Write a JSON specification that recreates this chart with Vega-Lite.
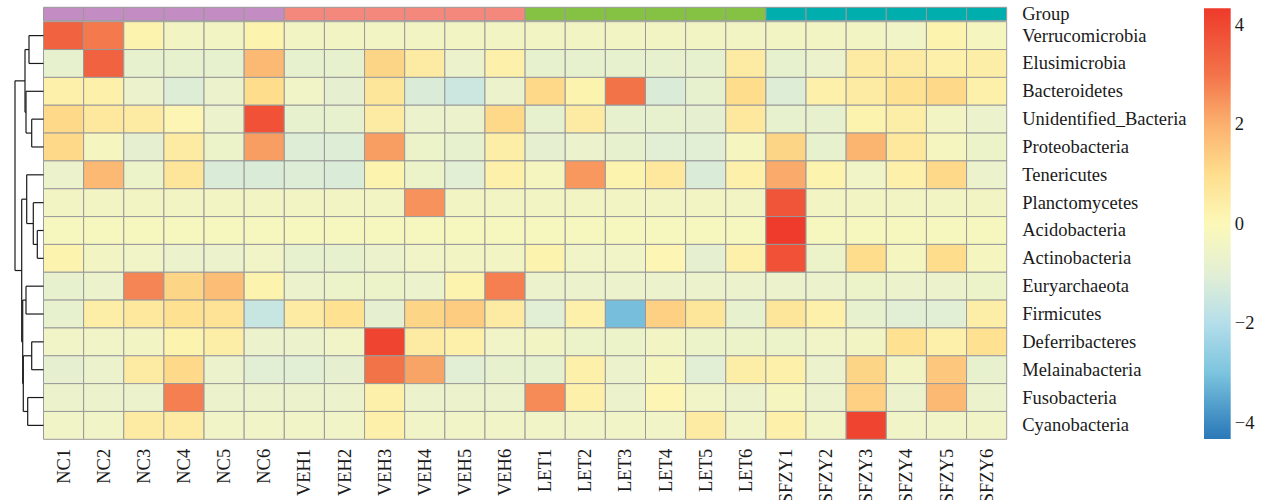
{
"$schema": "https://vega.github.io/schema/vega-lite/v6.json",
"width": 963.2,
"height": 432,
"autosize": {"type": "none"},
"padding": {"left": 43.5, "top": 7.3, "right": 261.3, "bottom": 60.7},
"background": "white",
"config": {"view": {"stroke": null}, "font": "Liberation Serif"},
"datasets": {
"cells": [
{"taxon":"Verrucomicrobia","sample":"NC1","value":3.4},{"taxon":"Verrucomicrobia","sample":"NC2","value":2.9},{"taxon":"Verrucomicrobia","sample":"NC3","value":0.2},{"taxon":"Verrucomicrobia","sample":"NC4","value":-0.4},{"taxon":"Verrucomicrobia","sample":"NC5","value":-0.4},{"taxon":"Verrucomicrobia","sample":"NC6","value":0.2},{"taxon":"Verrucomicrobia","sample":"VEH1","value":-0.4},{"taxon":"Verrucomicrobia","sample":"VEH2","value":-0.4},{"taxon":"Verrucomicrobia","sample":"VEH3","value":-0.4},{"taxon":"Verrucomicrobia","sample":"VEH4","value":-0.4},{"taxon":"Verrucomicrobia","sample":"VEH5","value":-0.4},{"taxon":"Verrucomicrobia","sample":"VEH6","value":-0.4},{"taxon":"Verrucomicrobia","sample":"LET1","value":-0.4},{"taxon":"Verrucomicrobia","sample":"LET2","value":-0.4},{"taxon":"Verrucomicrobia","sample":"LET3","value":-0.4},{"taxon":"Verrucomicrobia","sample":"LET4","value":-0.4},{"taxon":"Verrucomicrobia","sample":"LET5","value":-0.4},{"taxon":"Verrucomicrobia","sample":"LET6","value":-0.4},{"taxon":"Verrucomicrobia","sample":"SFZY1","value":-0.4},{"taxon":"Verrucomicrobia","sample":"SFZY2","value":-0.4},{"taxon":"Verrucomicrobia","sample":"SFZY3","value":-0.4},{"taxon":"Verrucomicrobia","sample":"SFZY4","value":-0.5},{"taxon":"Verrucomicrobia","sample":"SFZY5","value":0.2},{"taxon":"Verrucomicrobia","sample":"SFZY6","value":-0.3},
{"taxon":"Elusimicrobia","sample":"NC1","value":-0.8},{"taxon":"Elusimicrobia","sample":"NC2","value":3.4},{"taxon":"Elusimicrobia","sample":"NC3","value":-0.8},{"taxon":"Elusimicrobia","sample":"NC4","value":-0.8},{"taxon":"Elusimicrobia","sample":"NC5","value":-0.8},{"taxon":"Elusimicrobia","sample":"NC6","value":1.8},{"taxon":"Elusimicrobia","sample":"VEH1","value":-0.8},{"taxon":"Elusimicrobia","sample":"VEH2","value":-0.8},{"taxon":"Elusimicrobia","sample":"VEH3","value":1.2},{"taxon":"Elusimicrobia","sample":"VEH4","value":0.5},{"taxon":"Elusimicrobia","sample":"VEH5","value":-0.7},{"taxon":"Elusimicrobia","sample":"VEH6","value":0.3},{"taxon":"Elusimicrobia","sample":"LET1","value":-0.8},{"taxon":"Elusimicrobia","sample":"LET2","value":-0.8},{"taxon":"Elusimicrobia","sample":"LET3","value":-0.8},{"taxon":"Elusimicrobia","sample":"LET4","value":-0.8},{"taxon":"Elusimicrobia","sample":"LET5","value":-0.8},{"taxon":"Elusimicrobia","sample":"LET6","value":0.5},{"taxon":"Elusimicrobia","sample":"SFZY1","value":-0.8},{"taxon":"Elusimicrobia","sample":"SFZY2","value":-0.7},{"taxon":"Elusimicrobia","sample":"SFZY3","value":0.5},{"taxon":"Elusimicrobia","sample":"SFZY4","value":0.5},{"taxon":"Elusimicrobia","sample":"SFZY5","value":0.3},{"taxon":"Elusimicrobia","sample":"SFZY6","value":0.4},
{"taxon":"Bacteroidetes","sample":"NC1","value":0.3},{"taxon":"Bacteroidetes","sample":"NC2","value":0.3},{"taxon":"Bacteroidetes","sample":"NC3","value":-0.7},{"taxon":"Bacteroidetes","sample":"NC4","value":-1.1},{"taxon":"Bacteroidetes","sample":"NC5","value":-0.7},{"taxon":"Bacteroidetes","sample":"NC6","value":1.0},{"taxon":"Bacteroidetes","sample":"VEH1","value":-0.5},{"taxon":"Bacteroidetes","sample":"VEH2","value":-0.9},{"taxon":"Bacteroidetes","sample":"VEH3","value":0.7},{"taxon":"Bacteroidetes","sample":"VEH4","value":-1.2},{"taxon":"Bacteroidetes","sample":"VEH5","value":-1.5},{"taxon":"Bacteroidetes","sample":"VEH6","value":-0.7},{"taxon":"Bacteroidetes","sample":"LET1","value":1.1},{"taxon":"Bacteroidetes","sample":"LET2","value":0.2},{"taxon":"Bacteroidetes","sample":"LET3","value":3.0},{"taxon":"Bacteroidetes","sample":"LET4","value":-1.2},{"taxon":"Bacteroidetes","sample":"LET5","value":-0.8},{"taxon":"Bacteroidetes","sample":"LET6","value":1.0},{"taxon":"Bacteroidetes","sample":"SFZY1","value":-1.1},{"taxon":"Bacteroidetes","sample":"SFZY2","value":0.3},{"taxon":"Bacteroidetes","sample":"SFZY3","value":0.5},{"taxon":"Bacteroidetes","sample":"SFZY4","value":0.9},{"taxon":"Bacteroidetes","sample":"SFZY5","value":1.1},{"taxon":"Bacteroidetes","sample":"SFZY6","value":0.3},
{"taxon":"Unidentified_Bacteria","sample":"NC1","value":1.1},{"taxon":"Unidentified_Bacteria","sample":"NC2","value":0.6},{"taxon":"Unidentified_Bacteria","sample":"NC3","value":0.5},{"taxon":"Unidentified_Bacteria","sample":"NC4","value":0.1},{"taxon":"Unidentified_Bacteria","sample":"NC5","value":-0.7},{"taxon":"Unidentified_Bacteria","sample":"NC6","value":3.8},{"taxon":"Unidentified_Bacteria","sample":"VEH1","value":-0.8},{"taxon":"Unidentified_Bacteria","sample":"VEH2","value":-0.8},{"taxon":"Unidentified_Bacteria","sample":"VEH3","value":0.5},{"taxon":"Unidentified_Bacteria","sample":"VEH4","value":-0.7},{"taxon":"Unidentified_Bacteria","sample":"VEH5","value":-0.7},{"taxon":"Unidentified_Bacteria","sample":"VEH6","value":1.1},{"taxon":"Unidentified_Bacteria","sample":"LET1","value":-0.8},{"taxon":"Unidentified_Bacteria","sample":"LET2","value":0.5},{"taxon":"Unidentified_Bacteria","sample":"LET3","value":-0.8},{"taxon":"Unidentified_Bacteria","sample":"LET4","value":-0.8},{"taxon":"Unidentified_Bacteria","sample":"LET5","value":-0.9},{"taxon":"Unidentified_Bacteria","sample":"LET6","value":0.6},{"taxon":"Unidentified_Bacteria","sample":"SFZY1","value":-0.8},{"taxon":"Unidentified_Bacteria","sample":"SFZY2","value":-0.8},{"taxon":"Unidentified_Bacteria","sample":"SFZY3","value":0.2},{"taxon":"Unidentified_Bacteria","sample":"SFZY4","value":0.4},{"taxon":"Unidentified_Bacteria","sample":"SFZY5","value":-0.4},{"taxon":"Unidentified_Bacteria","sample":"SFZY6","value":-0.7},
{"taxon":"Proteobacteria","sample":"NC1","value":1.1},{"taxon":"Proteobacteria","sample":"NC2","value":-0.3},{"taxon":"Proteobacteria","sample":"NC3","value":-0.9},{"taxon":"Proteobacteria","sample":"NC4","value":0.5},{"taxon":"Proteobacteria","sample":"NC5","value":-0.6},{"taxon":"Proteobacteria","sample":"NC6","value":2.3},{"taxon":"Proteobacteria","sample":"VEH1","value":-1.1},{"taxon":"Proteobacteria","sample":"VEH2","value":-1.1},{"taxon":"Proteobacteria","sample":"VEH3","value":2.3},{"taxon":"Proteobacteria","sample":"VEH4","value":-0.6},{"taxon":"Proteobacteria","sample":"VEH5","value":-0.8},{"taxon":"Proteobacteria","sample":"VEH6","value":0.4},{"taxon":"Proteobacteria","sample":"LET1","value":-0.9},{"taxon":"Proteobacteria","sample":"LET2","value":-0.7},{"taxon":"Proteobacteria","sample":"LET3","value":-0.8},{"taxon":"Proteobacteria","sample":"LET4","value":-1.0},{"taxon":"Proteobacteria","sample":"LET5","value":-1.0},{"taxon":"Proteobacteria","sample":"LET6","value":-0.3},{"taxon":"Proteobacteria","sample":"SFZY1","value":1.2},{"taxon":"Proteobacteria","sample":"SFZY2","value":-0.8},{"taxon":"Proteobacteria","sample":"SFZY3","value":1.9},{"taxon":"Proteobacteria","sample":"SFZY4","value":0.6},{"taxon":"Proteobacteria","sample":"SFZY5","value":-0.3},{"taxon":"Proteobacteria","sample":"SFZY6","value":-0.6},
{"taxon":"Tenericutes","sample":"NC1","value":-0.7},{"taxon":"Tenericutes","sample":"NC2","value":1.8},{"taxon":"Tenericutes","sample":"NC3","value":-0.6},{"taxon":"Tenericutes","sample":"NC4","value":0.7},{"taxon":"Tenericutes","sample":"NC5","value":-1.2},{"taxon":"Tenericutes","sample":"NC6","value":-1.2},{"taxon":"Tenericutes","sample":"VEH1","value":-1.1},{"taxon":"Tenericutes","sample":"VEH2","value":-1.2},{"taxon":"Tenericutes","sample":"VEH3","value":0.2},{"taxon":"Tenericutes","sample":"VEH4","value":-0.6},{"taxon":"Tenericutes","sample":"VEH5","value":-1.0},{"taxon":"Tenericutes","sample":"VEH6","value":0.3},{"taxon":"Tenericutes","sample":"LET1","value":-0.3},{"taxon":"Tenericutes","sample":"LET2","value":2.4},{"taxon":"Tenericutes","sample":"LET3","value":0.2},{"taxon":"Tenericutes","sample":"LET4","value":0.6},{"taxon":"Tenericutes","sample":"LET5","value":-1.2},{"taxon":"Tenericutes","sample":"LET6","value":0.3},{"taxon":"Tenericutes","sample":"SFZY1","value":2.1},{"taxon":"Tenericutes","sample":"SFZY2","value":0.2},{"taxon":"Tenericutes","sample":"SFZY3","value":-0.5},{"taxon":"Tenericutes","sample":"SFZY4","value":0.3},{"taxon":"Tenericutes","sample":"SFZY5","value":1.1},{"taxon":"Tenericutes","sample":"SFZY6","value":-0.7},
{"taxon":"Planctomycetes","sample":"NC1","value":-0.4},{"taxon":"Planctomycetes","sample":"NC2","value":-0.4},{"taxon":"Planctomycetes","sample":"NC3","value":-0.4},{"taxon":"Planctomycetes","sample":"NC4","value":-0.4},{"taxon":"Planctomycetes","sample":"NC5","value":-0.4},{"taxon":"Planctomycetes","sample":"NC6","value":-0.4},{"taxon":"Planctomycetes","sample":"VEH1","value":-0.4},{"taxon":"Planctomycetes","sample":"VEH2","value":-0.4},{"taxon":"Planctomycetes","sample":"VEH3","value":-0.4},{"taxon":"Planctomycetes","sample":"VEH4","value":2.5},{"taxon":"Planctomycetes","sample":"VEH5","value":-0.4},{"taxon":"Planctomycetes","sample":"VEH6","value":-0.4},{"taxon":"Planctomycetes","sample":"LET1","value":-0.4},{"taxon":"Planctomycetes","sample":"LET2","value":-0.4},{"taxon":"Planctomycetes","sample":"LET3","value":-0.4},{"taxon":"Planctomycetes","sample":"LET4","value":-0.4},{"taxon":"Planctomycetes","sample":"LET5","value":-0.4},{"taxon":"Planctomycetes","sample":"LET6","value":-0.4},{"taxon":"Planctomycetes","sample":"SFZY1","value":3.7},{"taxon":"Planctomycetes","sample":"SFZY2","value":-0.4},{"taxon":"Planctomycetes","sample":"SFZY3","value":-0.4},{"taxon":"Planctomycetes","sample":"SFZY4","value":-0.4},{"taxon":"Planctomycetes","sample":"SFZY5","value":-0.4},{"taxon":"Planctomycetes","sample":"SFZY6","value":-0.4},
{"taxon":"Acidobacteria","sample":"NC1","value":-0.25},{"taxon":"Acidobacteria","sample":"NC2","value":-0.25},{"taxon":"Acidobacteria","sample":"NC3","value":-0.25},{"taxon":"Acidobacteria","sample":"NC4","value":-0.25},{"taxon":"Acidobacteria","sample":"NC5","value":-0.25},{"taxon":"Acidobacteria","sample":"NC6","value":-0.25},{"taxon":"Acidobacteria","sample":"VEH1","value":-0.25},{"taxon":"Acidobacteria","sample":"VEH2","value":-0.25},{"taxon":"Acidobacteria","sample":"VEH3","value":-0.25},{"taxon":"Acidobacteria","sample":"VEH4","value":-0.25},{"taxon":"Acidobacteria","sample":"VEH5","value":-0.25},{"taxon":"Acidobacteria","sample":"VEH6","value":-0.25},{"taxon":"Acidobacteria","sample":"LET1","value":-0.25},{"taxon":"Acidobacteria","sample":"LET2","value":-0.25},{"taxon":"Acidobacteria","sample":"LET3","value":-0.25},{"taxon":"Acidobacteria","sample":"LET4","value":-0.25},{"taxon":"Acidobacteria","sample":"LET5","value":-0.25},{"taxon":"Acidobacteria","sample":"LET6","value":-0.25},{"taxon":"Acidobacteria","sample":"SFZY1","value":4.3},{"taxon":"Acidobacteria","sample":"SFZY2","value":-0.25},{"taxon":"Acidobacteria","sample":"SFZY3","value":-0.25},{"taxon":"Acidobacteria","sample":"SFZY4","value":-0.25},{"taxon":"Acidobacteria","sample":"SFZY5","value":-0.25},{"taxon":"Acidobacteria","sample":"SFZY6","value":-0.25},
{"taxon":"Actinobacteria","sample":"NC1","value":0.2},{"taxon":"Actinobacteria","sample":"NC2","value":-0.4},{"taxon":"Actinobacteria","sample":"NC3","value":-0.5},{"taxon":"Actinobacteria","sample":"NC4","value":-0.7},{"taxon":"Actinobacteria","sample":"NC5","value":-0.7},{"taxon":"Actinobacteria","sample":"NC6","value":-0.5},{"taxon":"Actinobacteria","sample":"VEH1","value":-0.8},{"taxon":"Actinobacteria","sample":"VEH2","value":-0.8},{"taxon":"Actinobacteria","sample":"VEH3","value":-0.7},{"taxon":"Actinobacteria","sample":"VEH4","value":-0.5},{"taxon":"Actinobacteria","sample":"VEH5","value":-0.4},{"taxon":"Actinobacteria","sample":"VEH6","value":-0.4},{"taxon":"Actinobacteria","sample":"LET1","value":0.2},{"taxon":"Actinobacteria","sample":"LET2","value":-0.5},{"taxon":"Actinobacteria","sample":"LET3","value":-0.5},{"taxon":"Actinobacteria","sample":"LET4","value":0.1},{"taxon":"Actinobacteria","sample":"LET5","value":-0.9},{"taxon":"Actinobacteria","sample":"LET6","value":0.3},{"taxon":"Actinobacteria","sample":"SFZY1","value":3.8},{"taxon":"Actinobacteria","sample":"SFZY2","value":-0.6},{"taxon":"Actinobacteria","sample":"SFZY3","value":1.0},{"taxon":"Actinobacteria","sample":"SFZY4","value":-0.3},{"taxon":"Actinobacteria","sample":"SFZY5","value":1.0},{"taxon":"Actinobacteria","sample":"SFZY6","value":-0.3},
{"taxon":"Euryarchaeota","sample":"NC1","value":-0.8},{"taxon":"Euryarchaeota","sample":"NC2","value":-0.7},{"taxon":"Euryarchaeota","sample":"NC3","value":2.7},{"taxon":"Euryarchaeota","sample":"NC4","value":1.2},{"taxon":"Euryarchaeota","sample":"NC5","value":1.7},{"taxon":"Euryarchaeota","sample":"NC6","value":0.2},{"taxon":"Euryarchaeota","sample":"VEH1","value":-0.7},{"taxon":"Euryarchaeota","sample":"VEH2","value":-0.6},{"taxon":"Euryarchaeota","sample":"VEH3","value":-0.6},{"taxon":"Euryarchaeota","sample":"VEH4","value":-0.7},{"taxon":"Euryarchaeota","sample":"VEH5","value":0.2},{"taxon":"Euryarchaeota","sample":"VEH6","value":2.8},{"taxon":"Euryarchaeota","sample":"LET1","value":-0.7},{"taxon":"Euryarchaeota","sample":"LET2","value":-0.7},{"taxon":"Euryarchaeota","sample":"LET3","value":-0.7},{"taxon":"Euryarchaeota","sample":"LET4","value":-0.7},{"taxon":"Euryarchaeota","sample":"LET5","value":-0.7},{"taxon":"Euryarchaeota","sample":"LET6","value":-0.7},{"taxon":"Euryarchaeota","sample":"SFZY1","value":-0.7},{"taxon":"Euryarchaeota","sample":"SFZY2","value":-0.7},{"taxon":"Euryarchaeota","sample":"SFZY3","value":-0.6},{"taxon":"Euryarchaeota","sample":"SFZY4","value":-0.7},{"taxon":"Euryarchaeota","sample":"SFZY5","value":-0.7},{"taxon":"Euryarchaeota","sample":"SFZY6","value":-0.6},
{"taxon":"Firmicutes","sample":"NC1","value":-0.8},{"taxon":"Firmicutes","sample":"NC2","value":0.4},{"taxon":"Firmicutes","sample":"NC3","value":0.6},{"taxon":"Firmicutes","sample":"NC4","value":0.9},{"taxon":"Firmicutes","sample":"NC5","value":0.8},{"taxon":"Firmicutes","sample":"NC6","value":-1.6},{"taxon":"Firmicutes","sample":"VEH1","value":0.5},{"taxon":"Firmicutes","sample":"VEH2","value":0.9},{"taxon":"Firmicutes","sample":"VEH3","value":-0.9},{"taxon":"Firmicutes","sample":"VEH4","value":1.2},{"taxon":"Firmicutes","sample":"VEH5","value":1.4},{"taxon":"Firmicutes","sample":"VEH6","value":0.5},{"taxon":"Firmicutes","sample":"LET1","value":-1.0},{"taxon":"Firmicutes","sample":"LET2","value":0.3},{"taxon":"Firmicutes","sample":"LET3","value":-3.1},{"taxon":"Firmicutes","sample":"LET4","value":1.3},{"taxon":"Firmicutes","sample":"LET5","value":0.7},{"taxon":"Firmicutes","sample":"LET6","value":-0.8},{"taxon":"Firmicutes","sample":"SFZY1","value":0.7},{"taxon":"Firmicutes","sample":"SFZY2","value":0.3},{"taxon":"Firmicutes","sample":"SFZY3","value":-0.8},{"taxon":"Firmicutes","sample":"SFZY4","value":-1.0},{"taxon":"Firmicutes","sample":"SFZY5","value":-1.0},{"taxon":"Firmicutes","sample":"SFZY6","value":0.4},
{"taxon":"Deferribacteres","sample":"NC1","value":-0.5},{"taxon":"Deferribacteres","sample":"NC2","value":-0.5},{"taxon":"Deferribacteres","sample":"NC3","value":-0.4},{"taxon":"Deferribacteres","sample":"NC4","value":0.2},{"taxon":"Deferribacteres","sample":"NC5","value":0.4},{"taxon":"Deferribacteres","sample":"NC6","value":-0.7},{"taxon":"Deferribacteres","sample":"VEH1","value":-0.7},{"taxon":"Deferribacteres","sample":"VEH2","value":-0.5},{"taxon":"Deferribacteres","sample":"VEH3","value":4.1},{"taxon":"Deferribacteres","sample":"VEH4","value":0.5},{"taxon":"Deferribacteres","sample":"VEH5","value":0.3},{"taxon":"Deferribacteres","sample":"VEH6","value":-0.5},{"taxon":"Deferribacteres","sample":"LET1","value":-0.4},{"taxon":"Deferribacteres","sample":"LET2","value":-0.6},{"taxon":"Deferribacteres","sample":"LET3","value":-0.6},{"taxon":"Deferribacteres","sample":"LET4","value":-0.4},{"taxon":"Deferribacteres","sample":"LET5","value":-0.6},{"taxon":"Deferribacteres","sample":"LET6","value":-0.6},{"taxon":"Deferribacteres","sample":"SFZY1","value":-0.6},{"taxon":"Deferribacteres","sample":"SFZY2","value":-0.5},{"taxon":"Deferribacteres","sample":"SFZY3","value":-0.4},{"taxon":"Deferribacteres","sample":"SFZY4","value":0.9},{"taxon":"Deferribacteres","sample":"SFZY5","value":0.3},{"taxon":"Deferribacteres","sample":"SFZY6","value":0.9},
{"taxon":"Melainabacteria","sample":"NC1","value":-0.9},{"taxon":"Melainabacteria","sample":"NC2","value":-0.7},{"taxon":"Melainabacteria","sample":"NC3","value":0.5},{"taxon":"Melainabacteria","sample":"NC4","value":1.1},{"taxon":"Melainabacteria","sample":"NC5","value":-0.7},{"taxon":"Melainabacteria","sample":"NC6","value":-1.0},{"taxon":"Melainabacteria","sample":"VEH1","value":-1.0},{"taxon":"Melainabacteria","sample":"VEH2","value":-0.9},{"taxon":"Melainabacteria","sample":"VEH3","value":3.0},{"taxon":"Melainabacteria","sample":"VEH4","value":2.2},{"taxon":"Melainabacteria","sample":"VEH5","value":-1.0},{"taxon":"Melainabacteria","sample":"VEH6","value":-0.8},{"taxon":"Melainabacteria","sample":"LET1","value":-0.8},{"taxon":"Melainabacteria","sample":"LET2","value":0.3},{"taxon":"Melainabacteria","sample":"LET3","value":-0.7},{"taxon":"Melainabacteria","sample":"LET4","value":-0.3},{"taxon":"Melainabacteria","sample":"LET5","value":-1.0},{"taxon":"Melainabacteria","sample":"LET6","value":0.4},{"taxon":"Melainabacteria","sample":"SFZY1","value":0.3},{"taxon":"Melainabacteria","sample":"SFZY2","value":-0.7},{"taxon":"Melainabacteria","sample":"SFZY3","value":1.2},{"taxon":"Melainabacteria","sample":"SFZY4","value":-0.4},{"taxon":"Melainabacteria","sample":"SFZY5","value":1.5},{"taxon":"Melainabacteria","sample":"SFZY6","value":-0.8},
{"taxon":"Fusobacteria","sample":"NC1","value":-0.7},{"taxon":"Fusobacteria","sample":"NC2","value":-0.7},{"taxon":"Fusobacteria","sample":"NC3","value":-0.7},{"taxon":"Fusobacteria","sample":"NC4","value":2.8},{"taxon":"Fusobacteria","sample":"NC5","value":-0.7},{"taxon":"Fusobacteria","sample":"NC6","value":-0.7},{"taxon":"Fusobacteria","sample":"VEH1","value":-0.7},{"taxon":"Fusobacteria","sample":"VEH2","value":-0.7},{"taxon":"Fusobacteria","sample":"VEH3","value":0.3},{"taxon":"Fusobacteria","sample":"VEH4","value":-0.7},{"taxon":"Fusobacteria","sample":"VEH5","value":-0.7},{"taxon":"Fusobacteria","sample":"VEH6","value":-0.7},{"taxon":"Fusobacteria","sample":"LET1","value":2.6},{"taxon":"Fusobacteria","sample":"LET2","value":0.3},{"taxon":"Fusobacteria","sample":"LET3","value":-0.7},{"taxon":"Fusobacteria","sample":"LET4","value":0.1},{"taxon":"Fusobacteria","sample":"LET5","value":-0.5},{"taxon":"Fusobacteria","sample":"LET6","value":-0.7},{"taxon":"Fusobacteria","sample":"SFZY1","value":-0.3},{"taxon":"Fusobacteria","sample":"SFZY2","value":-0.7},{"taxon":"Fusobacteria","sample":"SFZY3","value":1.3},{"taxon":"Fusobacteria","sample":"SFZY4","value":-0.7},{"taxon":"Fusobacteria","sample":"SFZY5","value":1.8},{"taxon":"Fusobacteria","sample":"SFZY6","value":-0.7},
{"taxon":"Cyanobacteria","sample":"NC1","value":-0.5},{"taxon":"Cyanobacteria","sample":"NC2","value":-0.5},{"taxon":"Cyanobacteria","sample":"NC3","value":0.5},{"taxon":"Cyanobacteria","sample":"NC4","value":0.5},{"taxon":"Cyanobacteria","sample":"NC5","value":-0.5},{"taxon":"Cyanobacteria","sample":"NC6","value":-0.5},{"taxon":"Cyanobacteria","sample":"VEH1","value":-0.5},{"taxon":"Cyanobacteria","sample":"VEH2","value":-0.5},{"taxon":"Cyanobacteria","sample":"VEH3","value":0.3},{"taxon":"Cyanobacteria","sample":"VEH4","value":-0.5},{"taxon":"Cyanobacteria","sample":"VEH5","value":-0.5},{"taxon":"Cyanobacteria","sample":"VEH6","value":-0.5},{"taxon":"Cyanobacteria","sample":"LET1","value":-0.5},{"taxon":"Cyanobacteria","sample":"LET2","value":-0.5},{"taxon":"Cyanobacteria","sample":"LET3","value":-0.5},{"taxon":"Cyanobacteria","sample":"LET4","value":-0.5},{"taxon":"Cyanobacteria","sample":"LET5","value":0.5},{"taxon":"Cyanobacteria","sample":"LET6","value":-0.5},{"taxon":"Cyanobacteria","sample":"SFZY1","value":0.3},{"taxon":"Cyanobacteria","sample":"SFZY2","value":-0.5},{"taxon":"Cyanobacteria","sample":"SFZY3","value":4.1},{"taxon":"Cyanobacteria","sample":"SFZY4","value":-0.5},{"taxon":"Cyanobacteria","sample":"SFZY5","value":-0.5},{"taxon":"Cyanobacteria","sample":"SFZY6","value":-0.5}
],
"groups": [
{"sample":"NC1","group":"NC"},{"sample":"NC2","group":"NC"},{"sample":"NC3","group":"NC"},{"sample":"NC4","group":"NC"},{"sample":"NC5","group":"NC"},{"sample":"NC6","group":"NC"},
{"sample":"VEH1","group":"VEH"},{"sample":"VEH2","group":"VEH"},{"sample":"VEH3","group":"VEH"},{"sample":"VEH4","group":"VEH"},{"sample":"VEH5","group":"VEH"},{"sample":"VEH6","group":"VEH"},
{"sample":"LET1","group":"LET"},{"sample":"LET2","group":"LET"},{"sample":"LET3","group":"LET"},{"sample":"LET4","group":"LET"},{"sample":"LET5","group":"LET"},{"sample":"LET6","group":"LET"},
{"sample":"SFZY1","group":"SFZY"},{"sample":"SFZY2","group":"SFZY"},{"sample":"SFZY3","group":"SFZY"},{"sample":"SFZY4","group":"SFZY"},{"sample":"SFZY5","group":"SFZY"},{"sample":"SFZY6","group":"SFZY"}
],
"tree": [
{"h1":1.45,"h2":1.45,"p1":0.5,"p2":1.5},{"h1":0,"h2":1.45,"p1":0.5,"p2":0.5},{"h1":0,"h2":1.45,"p1":1.5,"p2":1.5},
{"h1":1.18,"h2":1.18,"p1":3.5,"p2":4.5},{"h1":0,"h2":1.18,"p1":3.5,"p2":3.5},{"h1":0,"h2":1.18,"p1":4.5,"p2":4.5},
{"h1":1.75,"h2":1.75,"p1":2.5,"p2":4.0},{"h1":0,"h2":1.75,"p1":2.5,"p2":2.5},{"h1":1.18,"h2":1.75,"p1":4.0,"p2":4.0},
{"h1":1.85,"h2":1.85,"p1":1.0,"p2":3.25},{"h1":1.45,"h2":1.85,"p1":1.0,"p2":1.0},{"h1":1.75,"h2":1.85,"p1":3.25,"p2":3.25},
{"h1":0.62,"h2":0.62,"p1":7.5,"p2":8.5},{"h1":0,"h2":0.62,"p1":7.5,"p2":7.5},{"h1":0,"h2":0.62,"p1":8.5,"p2":8.5},
{"h1":1.02,"h2":1.02,"p1":6.5,"p2":8.0},{"h1":0,"h2":1.02,"p1":6.5,"p2":6.5},{"h1":0.62,"h2":1.02,"p1":8.0,"p2":8.0},
{"h1":1.68,"h2":1.68,"p1":5.5,"p2":7.25},{"h1":0,"h2":1.68,"p1":5.5,"p2":5.5},{"h1":1.02,"h2":1.68,"p1":7.25,"p2":7.25},
{"h1":1.75,"h2":1.75,"p1":9.5,"p2":10.5},{"h1":0,"h2":1.75,"p1":9.5,"p2":9.5},{"h1":0,"h2":1.75,"p1":10.5,"p2":10.5},
{"h1":1.18,"h2":1.18,"p1":11.5,"p2":12.5},{"h1":0,"h2":1.18,"p1":11.5,"p2":11.5},{"h1":0,"h2":1.18,"p1":12.5,"p2":12.5},
{"h1":1.58,"h2":1.58,"p1":13.5,"p2":14.5},{"h1":0,"h2":1.58,"p1":13.5,"p2":13.5},{"h1":0,"h2":1.58,"p1":14.5,"p2":14.5},
{"h1":2.02,"h2":2.02,"p1":12.0,"p2":14.0},{"h1":1.18,"h2":2.02,"p1":12.0,"p2":12.0},{"h1":1.58,"h2":2.02,"p1":14.0,"p2":14.0},
{"h1":2.08,"h2":2.08,"p1":10.0,"p2":13.0},{"h1":1.75,"h2":2.08,"p1":10.0,"p2":10.0},{"h1":2.02,"h2":2.08,"p1":13.0,"p2":13.0},
{"h1":2.18,"h2":2.18,"p1":6.375,"p2":11.5},{"h1":1.68,"h2":2.18,"p1":6.375,"p2":6.375},{"h1":2.08,"h2":2.18,"p1":11.5,"p2":11.5},
{"h1":2.85,"h2":2.85,"p1":2.125,"p2":8.9375},{"h1":1.85,"h2":2.85,"p1":2.125,"p2":2.125},{"h1":2.18,"h2":2.85,"p1":8.9375,"p2":8.9375}
]
},
"layer": [
{
"data": {"name": "cells"},
"mark": {"type": "rect", "stroke": "#999999", "strokeWidth": 1},
"encoding": {
"x": {"field": "sample", "type": "nominal", "sort": null,
"scale": {"paddingInner": 0, "paddingOuter": 0, "round": false},
"axis": {"orient": "bottom", "title": null, "labelAngle": -90, "labelFont": "Liberation Serif", "labelFontSize": 18.5, "labelColor": "#1a1a1a", "labelPadding": 9, "ticks": false, "domain": false, "labelLimit": 0}},
"y": {"field": "taxon", "type": "nominal", "sort": null,
"scale": {"paddingInner": 0, "paddingOuter": 0.2586, "align": 1, "round": false},
"axis": {"orient": "right", "title": null, "labelFont": "Liberation Serif", "labelFontSize": 18.5, "labelColor": "#1a1a1a", "labelPadding": 15, "ticks": false, "domain": false, "labelLimit": 0}},
"color": {"field": "value", "type": "quantitative",
"scale": {"domain": [-4.33, -4, -3, -2, -1, 0, 1, 2, 3, 4.33], "range": ["#2B78B8", "#3C8AC1", "#7CC4DE", "#B4DEEA", "#E3EFD4", "#FCF8B8", "#FEDE8D", "#FBB06E", "#F37349", "#EE3A2B"], "interpolate": "rgb", "nice": false, "zero": false},
"legend": {"title": null, "orient": "none", "legendX": 1160.5, "legendY": 1.0, "direction": "vertical", "gradientLength": 430.7, "gradientThickness": 26.7, "gradientStrokeWidth": 0, "values": [-4, -2, 0, 2, 4], "labelFont": "Liberation Serif", "labelFontSize": 18.5, "labelColor": "#1a1a1a", "labelOffset": 4}}
}
},
{
"data": {"name": "groups"},
"mark": {"type": "rect", "stroke": "#999999", "strokeWidth": 1},
"encoding": {
"x": {"field": "sample", "type": "nominal", "sort": null, "scale": {"paddingInner": 0, "paddingOuter": 0, "round": false}, "axis": null},
"y": {"datum": -0.5172, "type": "quantitative", "scale": {"domain": [-0.5172, 15], "reverse": true, "zero": false, "nice": false},
"axis": {"orient": "right", "title": null, "values": [-0.2766], "labelExpr": "'Group'", "labelFont": "Liberation Serif", "labelFontSize": 18.5, "labelColor": "#1a1a1a", "labelPadding": 15, "ticks": false, "domain": false, "grid": false}},
"y2": {"datum": -0.036},
"color": {"field": "group", "type": "nominal", "sort": null,
"scale": {"domain": ["NC", "VEH", "LET", "SFZY"], "range": ["#C38DC3", "#F4887C", "#85C143", "#00AEAE"]}, "legend": null}
}
},
{
"data": {"name": "tree"},
"mark": {"type": "rule", "color": "#1a1a1a", "strokeWidth": 1.2},
"encoding": {
"x": {"field": "h1", "type": "quantitative", "scale": {"domain": [-96.32, 0], "reverse": true, "zero": false, "nice": false}, "axis": null},
"x2": {"field": "h2"},
"y": {"field": "p1", "type": "quantitative", "scale": {"domain": [-0.5172, 15], "reverse": true, "zero": false, "nice": false}, "axis": null},
"y2": {"field": "p2"}
}
}
],
"resolve": {"scale": {"x": "independent", "y": "independent", "color": "independent"}}
}
